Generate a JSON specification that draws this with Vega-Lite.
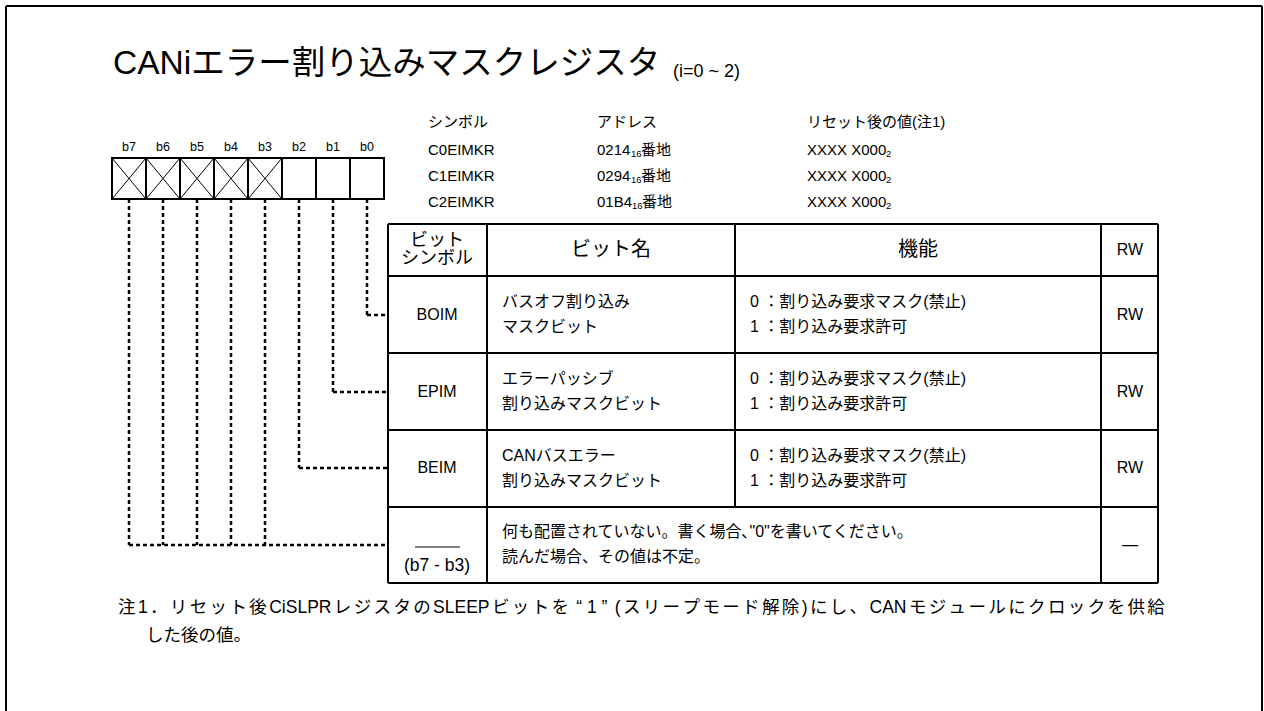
{
  "$schema": "https://vega.github.io/schema/vega-lite/v6.json",
  "width": 1264,
  "height": 711,
  "autosize": {"type": "none"},
  "padding": 0,
  "background": "white",
  "config": {"view": {"stroke": null}},
  "datasets": {
    "frame": [
      {"x": 6, "y": 6, "x2": 1262, "y2": 6},
      {"x": 6, "y": 6, "x2": 6, "y2": 711},
      {"x": 1262, "y": 6, "x2": 1262, "y2": 711}
    ],
    "bits": [
      {"bit": "b7", "x": 112, "x2": 146, "y": 158, "y2": 199},
      {"bit": "b6", "x": 146, "x2": 180, "y": 158, "y2": 199},
      {"bit": "b5", "x": 180, "x2": 214, "y": 158, "y2": 199},
      {"bit": "b4", "x": 214, "x2": 248, "y": 158, "y2": 199},
      {"bit": "b3", "x": 248, "x2": 282, "y": 158, "y2": 199},
      {"bit": "b2", "x": 282, "x2": 316, "y": 158, "y2": 199},
      {"bit": "b1", "x": 316, "x2": 350, "y": 158, "y2": 199},
      {"bit": "b0", "x": 350, "x2": 384, "y": 158, "y2": 199}
    ],
    "crosses": [
      {"x": 112, "y": 158, "x2": 146, "y2": 199}, {"x": 146, "y": 158, "x2": 112, "y2": 199},
      {"x": 146, "y": 158, "x2": 180, "y2": 199}, {"x": 180, "y": 158, "x2": 146, "y2": 199},
      {"x": 180, "y": 158, "x2": 214, "y2": 199}, {"x": 214, "y": 158, "x2": 180, "y2": 199},
      {"x": 214, "y": 158, "x2": 248, "y2": 199}, {"x": 248, "y": 158, "x2": 214, "y2": 199},
      {"x": 248, "y": 158, "x2": 282, "y2": 199}, {"x": 282, "y": 158, "x2": 248, "y2": 199}
    ],
    "grid": [
      {"x": 388, "y": 224, "x2": 1158, "y2": 224},
      {"x": 388, "y": 276, "x2": 1158, "y2": 276},
      {"x": 388, "y": 353, "x2": 1158, "y2": 353},
      {"x": 388, "y": 430, "x2": 1158, "y2": 430},
      {"x": 388, "y": 507, "x2": 1158, "y2": 507},
      {"x": 388, "y": 583, "x2": 1158, "y2": 583},
      {"x": 388, "y": 224, "x2": 388, "y2": 583},
      {"x": 487, "y": 224, "x2": 487, "y2": 583},
      {"x": 735, "y": 224, "x2": 735, "y2": 507},
      {"x": 1101, "y": 224, "x2": 1101, "y2": 583},
      {"x": 1158, "y": 224, "x2": 1158, "y2": 583}
    ],
    "overline": [
      {"x": 415, "y": 547, "x2": 460, "y2": 547}
    ],
    "leaders": [
      {"x": 367, "y": 199, "x2": 367, "y2": 315}, {"x": 367, "y": 315, "x2": 388, "y2": 315},
      {"x": 333, "y": 199, "x2": 333, "y2": 392}, {"x": 333, "y": 392, "x2": 388, "y2": 392},
      {"x": 299, "y": 199, "x2": 299, "y2": 468}, {"x": 299, "y": 468, "x2": 388, "y2": 468},
      {"x": 265, "y": 199, "x2": 265, "y2": 545},
      {"x": 231, "y": 199, "x2": 231, "y2": 545},
      {"x": 197, "y": 199, "x2": 197, "y2": 545},
      {"x": 163, "y": 199, "x2": 163, "y2": 545},
      {"x": 129, "y": 199, "x2": 129, "y2": 545},
      {"x": 129, "y": 545, "x2": 388, "y2": 545}
    ],
    "texts": [
      {"role": "title", "text": "CANiエラー割り込みマスクレジスタ", "x": 113, "y": 64},
      {"role": "tsub", "text": "(i=0 ~ 2)", "x": 673, "y": 72},
      {"role": "bitlbl", "text": "b7", "x": 129, "y": 147},
      {"role": "bitlbl", "text": "b6", "x": 163, "y": 147},
      {"role": "bitlbl", "text": "b5", "x": 197, "y": 147},
      {"role": "bitlbl", "text": "b4", "x": 231, "y": 147},
      {"role": "bitlbl", "text": "b3", "x": 265, "y": 147},
      {"role": "bitlbl", "text": "b2", "x": 299, "y": 147},
      {"role": "bitlbl", "text": "b1", "x": 333, "y": 147},
      {"role": "bitlbl", "text": "b0", "x": 367, "y": 147},
      {"role": "sym", "text": "シンボル", "x": 428, "y": 122},
      {"role": "sym", "text": "アドレス", "x": 597, "y": 122},
      {"role": "sym", "text": "リセット後の値(注1)", "x": 807, "y": 122},
      {"role": "sym", "text": "C0EIMKR", "x": 428, "y": 150},
      {"role": "sym", "text": "0214", "x": 597, "y": 150},
      {"role": "sub", "text": "16", "x": 631, "y": 154},
      {"role": "sym", "text": "番地", "x": 641, "y": 150},
      {"role": "sym", "text": "XXXX X000", "x": 807, "y": 150},
      {"role": "sub", "text": "2", "x": 886, "y": 154},
      {"role": "sym", "text": "C1EIMKR", "x": 428, "y": 176},
      {"role": "sym", "text": "0294", "x": 597, "y": 176},
      {"role": "sub", "text": "16", "x": 631, "y": 180},
      {"role": "sym", "text": "番地", "x": 641, "y": 176},
      {"role": "sym", "text": "XXXX X000", "x": 807, "y": 176},
      {"role": "sub", "text": "2", "x": 886, "y": 180},
      {"role": "sym", "text": "C2EIMKR", "x": 428, "y": 202},
      {"role": "sym", "text": "01B4", "x": 597, "y": 202},
      {"role": "sub", "text": "16", "x": 632, "y": 206},
      {"role": "sym", "text": "番地", "x": 642, "y": 202},
      {"role": "sym", "text": "XXXX X000", "x": 807, "y": 202},
      {"role": "sub", "text": "2", "x": 886, "y": 206},
      {"role": "hdrs", "text": "ビット", "x": 437, "y": 241},
      {"role": "hdrs", "text": "シンボル", "x": 437, "y": 259},
      {"role": "hdr", "text": "ビット名", "x": 611, "y": 250},
      {"role": "hdr", "text": "機能", "x": 918, "y": 250},
      {"role": "cellc", "text": "RW", "x": 1130, "y": 250},
      {"role": "cellc", "text": "BOIM", "x": 437, "y": 315},
      {"role": "cell", "text": "バスオフ割り込み", "x": 502, "y": 302},
      {"role": "cell", "text": "マスクビット", "x": 502, "y": 327},
      {"role": "cell", "text": "0 ：割り込み要求マスク(禁止)", "x": 750, "y": 302},
      {"role": "cell", "text": "1 ：割り込み要求許可", "x": 750, "y": 327},
      {"role": "cellc", "text": "RW", "x": 1130, "y": 315},
      {"role": "cellc", "text": "EPIM", "x": 437, "y": 392},
      {"role": "cell", "text": "エラーパッシブ", "x": 502, "y": 379},
      {"role": "cell", "text": "割り込みマスクビット", "x": 502, "y": 404},
      {"role": "cell", "text": "0 ：割り込み要求マスク(禁止)", "x": 750, "y": 379},
      {"role": "cell", "text": "1 ：割り込み要求許可", "x": 750, "y": 404},
      {"role": "cellc", "text": "RW", "x": 1130, "y": 392},
      {"role": "cellc", "text": "BEIM", "x": 437, "y": 468},
      {"role": "cell", "text": "CANバスエラー", "x": 502, "y": 456},
      {"role": "cell", "text": "割り込みマスクビット", "x": 502, "y": 481},
      {"role": "cell", "text": "0 ：割り込み要求マスク(禁止)", "x": 750, "y": 456},
      {"role": "cell", "text": "1 ：割り込み要求許可", "x": 750, "y": 481},
      {"role": "cellc", "text": "RW", "x": 1130, "y": 468},
      {"role": "cellb", "text": "(b7 - b3)", "x": 437, "y": 566},
      {"role": "cell", "text": "何も配置されていない。書く場合､\"0\"を書いてください。", "x": 502, "y": 532},
      {"role": "cell", "text": "読んだ場合、その値は不定。", "x": 502, "y": 557},
      {"role": "cellc", "text": "—", "x": 1130, "y": 545},
      {"role": "note", "text": "注", "x": 118, "y": 608},
      {"role": "note", "text": "1", "x": 137.9, "y": 608},
      {"role": "note", "text": "．", "x": 150.0, "y": 608},
      {"role": "note", "text": "リ", "x": 169.8, "y": 608},
      {"role": "note", "text": "セ", "x": 189.7, "y": 608},
      {"role": "note", "text": "ッ", "x": 209.6, "y": 608},
      {"role": "note", "text": "ト", "x": 229.5, "y": 608},
      {"role": "note", "text": "後", "x": 249.3, "y": 608},
      {"role": "note", "text": "CiSLPR", "x": 269.2, "y": 608},
      {"role": "note", "text": "レ", "x": 333.8, "y": 608},
      {"role": "note", "text": "ジ", "x": 353.7, "y": 608},
      {"role": "note", "text": "ス", "x": 373.5, "y": 608},
      {"role": "note", "text": "タ", "x": 393.4, "y": 608},
      {"role": "note", "text": "の", "x": 413.3, "y": 608},
      {"role": "note", "text": "SLEEP", "x": 433.1, "y": 608},
      {"role": "note", "text": "ビ", "x": 492.0, "y": 608},
      {"role": "note", "text": "ッ", "x": 511.8, "y": 608},
      {"role": "note", "text": "ト", "x": 531.7, "y": 608},
      {"role": "note", "text": "を", "x": 551.6, "y": 608},
      {"role": "note", "text": "“", "x": 576.3, "y": 608},
      {"role": "note", "text": "1", "x": 587.0, "y": 608},
      {"role": "note", "text": "”", "x": 601.6, "y": 608},
      {"role": "note", "text": "(", "x": 614.7, "y": 608},
      {"role": "note", "text": "ス", "x": 622.9, "y": 608},
      {"role": "note", "text": "リ", "x": 642.7, "y": 608},
      {"role": "note", "text": "ー", "x": 662.6, "y": 608},
      {"role": "note", "text": "プ", "x": 682.5, "y": 608},
      {"role": "note", "text": "モ", "x": 702.4, "y": 608},
      {"role": "note", "text": "ー", "x": 722.2, "y": 608},
      {"role": "note", "text": "ド", "x": 742.1, "y": 608},
      {"role": "note", "text": "解", "x": 762.0, "y": 608},
      {"role": "note", "text": "除", "x": 781.8, "y": 608},
      {"role": "note", "text": ")", "x": 801.7, "y": 608},
      {"role": "note", "text": "に", "x": 809.9, "y": 608},
      {"role": "note", "text": "し", "x": 829.8, "y": 608},
      {"role": "note", "text": "、", "x": 849.6, "y": 608},
      {"role": "note", "text": "CAN", "x": 869.5, "y": 608},
      {"role": "note", "text": "モ", "x": 908.9, "y": 608},
      {"role": "note", "text": "ジ", "x": 928.7, "y": 608},
      {"role": "note", "text": "ュ", "x": 948.6, "y": 608},
      {"role": "note", "text": "ー", "x": 968.5, "y": 608},
      {"role": "note", "text": "ル", "x": 988.3, "y": 608},
      {"role": "note", "text": "に", "x": 1008.2, "y": 608},
      {"role": "note", "text": "ク", "x": 1028.1, "y": 608},
      {"role": "note", "text": "ロ", "x": 1047.9, "y": 608},
      {"role": "note", "text": "ッ", "x": 1067.8, "y": 608},
      {"role": "note", "text": "ク", "x": 1087.7, "y": 608},
      {"role": "note", "text": "を", "x": 1107.6, "y": 608},
      {"role": "note", "text": "供", "x": 1127.4, "y": 608},
      {"role": "note", "text": "給", "x": 1147.3, "y": 608},
      {"role": "note", "text": "した後の値。", "x": 146, "y": 636}
    ]
  },
  "encoding": {
    "x": {"field": "x", "type": "quantitative", "scale": {"domain": [0, 1264], "nice": false, "zero": false}, "axis": null},
    "y": {"field": "y", "type": "quantitative", "scale": {"domain": [0, 711], "nice": false, "zero": false, "reverse": true}, "axis": null}
  },
  "layer": [
    {
      "data": {"name": "frame"},
      "mark": {"type": "rule", "color": "black", "strokeWidth": 2},
      "encoding": {"x2": {"field": "x2"}, "y2": {"field": "y2"}}
    },
    {
      "data": {"name": "leaders"},
      "mark": {"type": "rule", "color": "black", "strokeWidth": 2.5, "strokeDash": [4, 3]},
      "encoding": {"x2": {"field": "x2"}, "y2": {"field": "y2"}}
    },
    {
      "data": {"name": "bits"},
      "mark": {"type": "rect", "fill": "white", "stroke": "black", "strokeWidth": 2},
      "encoding": {"x2": {"field": "x2"}, "y2": {"field": "y2"}}
    },
    {
      "data": {"name": "crosses"},
      "mark": {"type": "rule", "color": "black", "strokeWidth": 1},
      "encoding": {"x2": {"field": "x2"}, "y2": {"field": "y2"}}
    },
    {
      "data": {"name": "grid"},
      "mark": {"type": "rule", "color": "black", "strokeWidth": 2},
      "encoding": {"x2": {"field": "x2"}, "y2": {"field": "y2"}}
    },
    {
      "data": {"name": "overline"},
      "mark": {"type": "rule", "color": "black", "strokeWidth": 1},
      "encoding": {"x2": {"field": "x2"}, "y2": {"field": "y2"}}
    },
    {
      "data": {"name": "texts"},
      "transform": [{"filter": "datum.role === 'title'"}],
      "mark": {"type": "text", "align": "left", "baseline": "middle", "fontSize": 33.5, "font": "Liberation Sans, Noto Sans CJK JP", "color": "black"},
      "encoding": {"text": {"field": "text"}}
    },
    {
      "data": {"name": "texts"},
      "transform": [{"filter": "datum.role === 'tsub'"}],
      "mark": {"type": "text", "align": "left", "baseline": "middle", "fontSize": 18, "font": "Liberation Sans, Noto Sans CJK JP", "color": "black"},
      "encoding": {"text": {"field": "text"}}
    },
    {
      "data": {"name": "texts"},
      "transform": [{"filter": "datum.role === 'bitlbl'"}],
      "mark": {"type": "text", "align": "center", "baseline": "middle", "fontSize": 12.5, "font": "Liberation Sans, Noto Sans CJK JP", "color": "black"},
      "encoding": {"text": {"field": "text"}}
    },
    {
      "data": {"name": "texts"},
      "transform": [{"filter": "datum.role === 'sym'"}],
      "mark": {"type": "text", "align": "left", "baseline": "middle", "fontSize": 15, "font": "Liberation Sans, Noto Sans CJK JP", "color": "black"},
      "encoding": {"text": {"field": "text"}}
    },
    {
      "data": {"name": "texts"},
      "transform": [{"filter": "datum.role === 'sub'"}],
      "mark": {"type": "text", "align": "left", "baseline": "middle", "fontSize": 9.5, "font": "Liberation Sans, Noto Sans CJK JP", "color": "black"},
      "encoding": {"text": {"field": "text"}}
    },
    {
      "data": {"name": "texts"},
      "transform": [{"filter": "datum.role === 'hdrs'"}],
      "mark": {"type": "text", "align": "center", "baseline": "middle", "fontSize": 18, "font": "Liberation Sans, Noto Sans CJK JP", "color": "black"},
      "encoding": {"text": {"field": "text"}}
    },
    {
      "data": {"name": "texts"},
      "transform": [{"filter": "datum.role === 'hdr'"}],
      "mark": {"type": "text", "align": "center", "baseline": "middle", "fontSize": 20, "font": "Liberation Sans, Noto Sans CJK JP", "color": "black"},
      "encoding": {"text": {"field": "text"}}
    },
    {
      "data": {"name": "texts"},
      "transform": [{"filter": "datum.role === 'cellc'"}],
      "mark": {"type": "text", "align": "center", "baseline": "middle", "fontSize": 16, "font": "Liberation Sans, Noto Sans CJK JP", "color": "black"},
      "encoding": {"text": {"field": "text"}}
    },
    {
      "data": {"name": "texts"},
      "transform": [{"filter": "datum.role === 'cellb'"}],
      "mark": {"type": "text", "align": "center", "baseline": "middle", "fontSize": 17.5, "font": "Liberation Sans, Noto Sans CJK JP", "color": "black"},
      "encoding": {"text": {"field": "text"}}
    },
    {
      "data": {"name": "texts"},
      "transform": [{"filter": "datum.role === 'cell'"}],
      "mark": {"type": "text", "align": "left", "baseline": "middle", "fontSize": 16, "font": "Liberation Sans, Noto Sans CJK JP", "color": "black"},
      "encoding": {"text": {"field": "text"}}
    },
    {
      "data": {"name": "texts"},
      "transform": [{"filter": "datum.role === 'note'"}],
      "mark": {"type": "text", "align": "left", "baseline": "middle", "fontSize": 17.5, "font": "Liberation Sans, Noto Sans CJK JP", "color": "black"},
      "encoding": {"text": {"field": "text"}}
    }
  ]
}
